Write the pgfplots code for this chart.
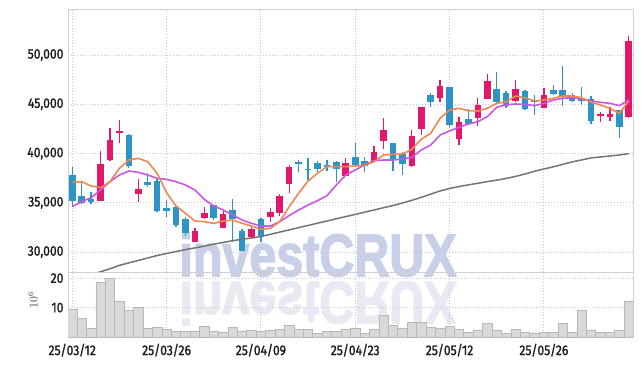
\documentclass[border=0pt]{standalone}
\usepackage{pgfplots}
\pgfplotsset{compat=1.18}
\usepackage{pgfplotstable}
\usepackage{graphicx}
\usepackage{fontspec}
\setmainfont{Fira Sans}[FakeStretch=0.87, UprightFeatures={FakeBold=1.2}]
\newfontfamily\wmfont{Liberation Sans}[BoldFeatures={FakeBold=2.5}]

\definecolor{upc}{HTML}{E2186B}
\definecolor{dnc}{HTML}{2E94C6}
\definecolor{ma5}{HTML}{EE8750}
\definecolor{ma10}{HTML}{CC55E6}
\definecolor{ma60}{HTML}{747474}
\definecolor{gridc}{HTML}{C4C8DC}
\definecolor{framec}{HTML}{D0D0D0}
\definecolor{volf}{HTML}{D9D9D9}
\definecolor{vold}{HTML}{B8B8B8}
\definecolor{wm}{HTML}{C8D0E8}
\definecolor{wmr}{HTML}{E8E9F2}

\pgfplotstableread{
i o h l c
3 35215 40290 35215 38937
4 39343 42556 39275 41372
5 42117 43402 41034 42286
7 35858 37448 35080 36399
13 31054 32475 31054 32137
14 33490 34607 33321 33930
16 32475 34268 32475 33828
19 31562 32644 31393 32340
21 33592 34437 33084 34032
22 33998 35858 33659 35689
23 36873 38835 35960 38598
29 37753 39580 37753 39005
32 39275 40798 39241 40155
33 41305 43572 40426 42388
36 38734 42388 38666 41779
37 42490 44756 41880 44689
39 45602 47463 45264 46854
41 41441 43741 40866 43234
43 43572 45602 42794 44925
44 45568 48072 45568 47361
47 45365 47463 45264 46550
50 44588 46617 44588 45940
56 43843 44182 43166 43979
57 43674 44757 43302 44046
59 43742 51962 43573 51421
}\upT

\pgfplotstableread{
i o h l c
0 37820 38666 34674 35215
1 35689 37110 34877 35012
2 35351 36061 34843 35080
6 41880 41981 38497 38767
8 37144 38057 36568 36839
9 37245 37380 34031 34200
10 34505 35283 33524 34200
11 34607 34700 32509 32780
12 33355 33591 31629 31900
15 34742 34800 33253 33422
17 34268 35418 31054 33321
18 32166 32300 30100 30137
20 33355 33422 30986 31562
24 39174 39343 38090 38903
25 38429 39512 37313 38328
26 39005 39241 38158 38429
27 38801 39343 38226 38598
28 39174 39241 37144 38395
30 39614 41034 38666 38801
31 39241 39681 38158 38767
34 41034 41102 38260 39343
35 39952 40189 37821 38937
38 45940 46110 44689 45264
40 46718 46786 42659 42896
42 43471 44485 42896 42997
45 46549 48241 45094 45264
46 46178 46300 44587 44824
48 46347 46400 44452 44520
49 45433 45940 43910 45264
51 46448 46955 45940 46042
52 46448 48884 44858 45771
53 45940 46110 45264 45365
54 45602 46786 44926 45332
55 45534 45839 43031 43302
58 44419 44419 41543 42727
}\dnT

\pgfplotstableread{
i a b g
0 37076 34606 27100
1 37143 35114 27400
2 36704 35520 27700
3 36534 36298 28000
4 37143 37143 28300
5 38497 37820 28650
6 39343 38226 28900
7 39512 38091 29150
8 39174 37820 29400
9 37990 37482 29650
10 36027 37380 29850
11 34674 37143 30050
12 33930 36805 30250
13 33151 36298 30420
14 33084 35351 30600
15 32915 34674 30800
16 33151 34268 30980
17 33253 33761 31150
18 32915 33253 31300
19 32644 32915 31420
20 32306 32644 31580
21 32407 32644 31800
22 33084 33084 32030
23 34607 33700 32250
24 35960 34268 32480
25 37212 34776 32700
26 37990 35216 32930
27 38666 35723 33150
28 38666 36806 33380
29 38666 37820 33600
30 38734 38328 33820
31 38801 38835 34050
32 39174 39275 34270
33 39851 39343 34500
34 39918 39343 34720
35 39952 39445 34980
36 40426 39614 35250
37 41441 40358 35550
38 42049 40866 35880
39 43572 41881 36200
40 44418 42287 36450
41 44587 42659 36650
42 44350 42997 36820
43 44317 43234 36980
44 44587 43742 37150
45 45095 44689 37300
46 45250 44960 37470
47 45839 45027 37680
48 45670 44993 37920
49 45332 44858 38200
50 45433 45095 38430
51 45602 45433 38650
52 45839 45602 38900
53 45839 45670 39150
54 45670 45535 39350
55 45196 45332 39550
56 44926 45196 39650
57 44588 45095 39750
58 44080 44858 39850
59 45332 45433 40000
}\maT

\pgfplotsset{
  candle/.style={draw=none, mark=none, forget plot,
    error bars/.cd, y dir=plus, y explicit, error mark=none,
    error bar style={draw=#1, line width=1.3bp}},
  body/.style={draw=none, mark=none, forget plot,
    error bars/.cd, y dir=plus, y explicit, error mark=none,
    error bar style={draw=#1, line width=6.6bp}},
}

\begin{document}
\begin{tikzpicture}[x=1bp,y=1bp]
\useasboundingbox (-68,-94) rectangle (574,272);
\node[anchor=base, text=wm, inner sep=0] at (250,-4) {\scalebox{0.81}[1]{\wmfont\fontsize{60}{60}\bfseries\selectfont investCRUX}};
\node[anchor=base, text=wmr, inner sep=0] at (250,-10) {\scalebox{0.81}[-1]{\wmfont\fontsize{60}{60}\bfseries\selectfont investCRUX}};

\begin{axis}[at={(0,0)}, anchor=south west,
  width=565bp, height=263bp, scale only axis,
  xmin=-0.45, xmax=59.45, ymin=27975, ymax=54670,
  xtick={0,10,...,50}, xticklabels={},
  ytick={30000,35000,...,50000},
  scaled y ticks=false,
  grid=major,
  major grid style={draw=gridc, line width=0.8bp, dash pattern=on 1bp off 2bp},
  axis line style={draw=framec},
  tick style={draw=none},
  yticklabel style={font=\fontsize{14}{14}\selectfont, text=black!90, xshift=-1bp},
  /pgf/number format/1000 sep={,},
  /pgf/number format/assume math mode=true,
]
\addplot[candle=upc] table[x=i, y=l, y error plus expr=\thisrow{h}-\thisrow{l}] {\upT};
\addplot[body=upc] table[x=i, y=o, y error plus expr=\thisrow{c}-\thisrow{o}] {\upT};
\addplot[candle=dnc] table[x=i, y=l, y error plus expr=\thisrow{h}-\thisrow{l}] {\dnT};
\addplot[body=dnc] table[x=i, y=c, y error plus expr=\thisrow{o}-\thisrow{c}] {\dnT};
\addplot[ma60, line width=1.5bp, mark=none] table[x=i, y=g] {\maT};
\addplot[ma10, line width=1.6bp, mark=none] table[x=i, y=b] {\maT};
\addplot[ma5, line width=1.6bp, mark=none] table[x=i, y=a] {\maT};
\end{axis}

\begin{axis}[at={(0,0)}, anchor=north west,
  width=565bp, height=65bp, scale only axis,
  xmin=-0.45, xmax=59.45, ymin=0, ymax=22.1,
  xtick={0,10,...,50},
  xticklabels={25/03/12,25/03/26,25/04/09,25/04/23,25/05/12,25/05/26},
  ytick={10,20},
  grid=major,
  major grid style={draw=gridc, line width=0.8bp, dash pattern=on 1bp off 2bp},
  axis line style={draw=framec},
  tick style={draw=none},
  yticklabel style={font=\fontsize{14}{14}\selectfont, text=black!90, xshift=-1bp},
  xticklabel style={font=\fontsize{14}{14}\selectfont, text=black!90, yshift=1bp},
  /pgf/number format/assume math mode=true,
  ylabel={$10^6$},
  ylabel style={at={(axis description cs:-0.062,0.57)}, anchor=center, font=\fontsize{12}{12}\selectfont, text=black!75},
  ybar, bar width=1, bar shift=0pt,
]
\addplot[fill=volf, draw=vold, line width=0.6bp] coordinates {
(0,9.4) (1,6.3) (2,2.8) (3,18.7) (4,20.0) (5,12.0) (6,9.1) (7,10.0) (8,3.0) (9,3.3)
(10,2.7) (11,2.1) (12,1.8) (13,2.1) (14,3.7) (15,2.1) (16,1.7) (17,3.3) (18,2.1) (19,2.4)
(20,2.0) (21,2.4) (22,2.5) (23,4.0) (24,2.5) (25,2.7) (26,1.3) (27,2.0) (28,2.0) (29,2.7)
(30,3.0) (31,1.3) (32,2.7) (33,7.4) (34,3.9) (35,3.0) (36,5.0) (37,5.0) (38,3.3) (39,3.0)
(40,3.7) (41,2.7) (42,1.7) (43,2.4) (44,4.7) (45,2.4) (46,1.3) (47,2.7) (48,1.7) (49,1.3)
(50,1.7) (51,1.7) (52,4.7) (53,1.7) (54,9.0) (55,2.4) (56,1.7) (57,1.7) (58,2.4) (59,12.3)
};
\end{axis}
\end{tikzpicture}
\end{document}
